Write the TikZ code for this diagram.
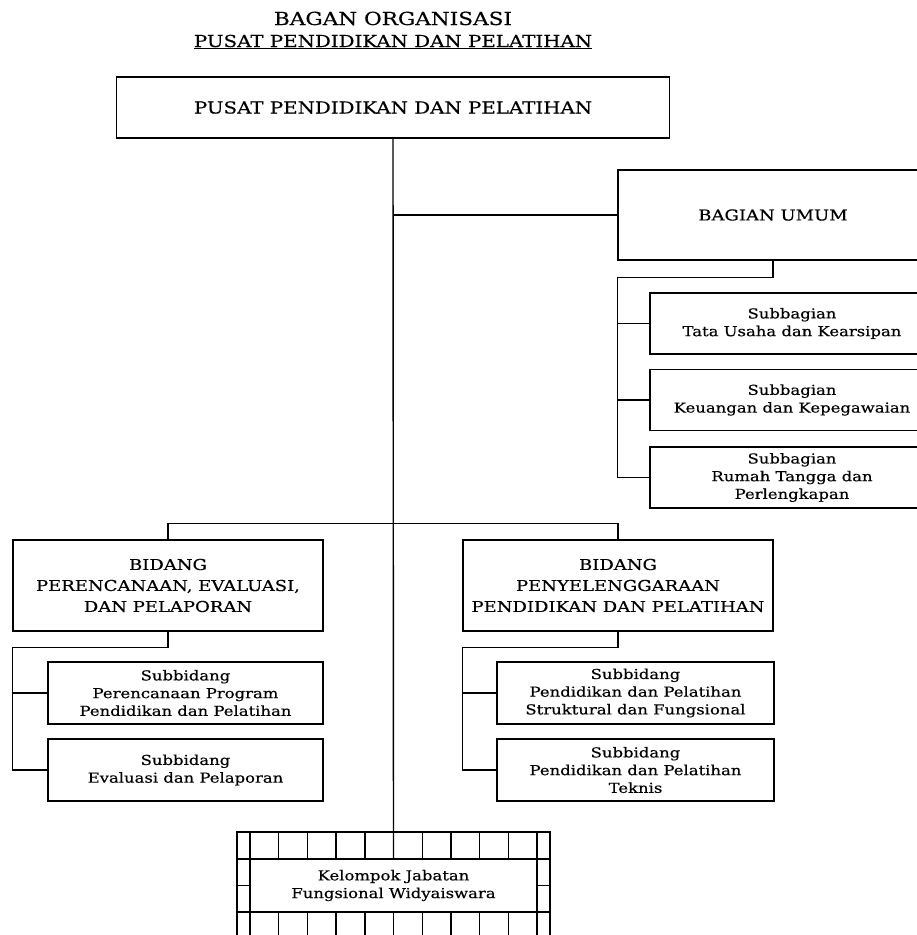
\documentclass[tikz,border=0pt]{standalone}
\usepackage{fontspec}
\setmainfont{DejaVu Serif}[FakeStretch=1.2,FakeBold=0.4]
\usepackage{tikz}
\usetikzlibrary{positioning}
\tikzstyle{unit}=[draw,line width=1.4pt,align=center,inner sep=0pt,font=\fontsize{15}{21}\selectfont]
\tikzstyle{subunit}=[draw,line width=1.4pt,align=center,inner sep=0pt,font=\fontsize{13.7}{17.7}\selectfont]
\tikzstyle{link}=[line width=1.4pt]
\tikzstyle{heading}=[anchor=base,inner sep=0pt,font=\fontsize{16.5}{21}\selectfont]

\begin{document}
\begin{tikzpicture}[x=1pt,y=-1pt]
\useasboundingbox (0,0) rectangle (917,935);
% judul
\node [heading,font=\fontsize{18}{21}\selectfont] (judul1) at (393,25) {BAGAN ORGANISASI};
\node [heading] (judul2) at (393,47) {\underline{PUSAT PENDIDIKAN DAN PELATIHAN}};
% pimpinan dan bagian umum
\node [unit,font=\fontsize{16.5}{21}\selectfont,minimum width=553,minimum height=61] (pusat) at (393,107.5) {PUSAT PENDIDIKAN DAN PELATIHAN};
\node [unit,minimum width=310,minimum height=90] (umum) at (773,215) {BAGIAN UMUM};
\node [subunit,minimum width=284,minimum height=61] (sb1) at (792,323.5) {Subbagian\\Tata Usaha dan Kearsipan};
\node [subunit,minimum width=284,minimum height=61] (sb2) at (792,400) {Subbagian\\Keuangan dan Kepegawaian};
\node [subunit,minimum width=284,minimum height=61] (sb3) at (792,477.5) {Subbagian\\Rumah Tangga dan\\Perlengkapan};
% bidang
\node [unit,minimum width=310,minimum height=91] (bpe) at (168,585.5) {BIDANG\\PERENCANAAN, EVALUASI,\\DAN PELAPORAN};
\node [unit,minimum width=310,minimum height=91] (bpp) at (618,585.5) {BIDANG\\PENYELENGGARAAN\\PENDIDIKAN DAN PELATIHAN};
\node [subunit,minimum width=275,minimum height=62] (sd1) at (185.5,693) {Subbidang\\Perencanaan Program\\Pendidikan dan Pelatihan};
\node [subunit,minimum width=275,minimum height=62] (sd2) at (185.5,770) {Subbidang\\Evaluasi dan Pelaporan};
\node [subunit,minimum width=277,minimum height=62] (sd3) at (635.5,693) {Subbidang\\Pendidikan dan Pelatihan\\Struktural dan Fungsional};
\node [subunit,minimum width=277,minimum height=62] (sd4) at (635.5,770) {Subbidang\\Pendidikan dan Pelatihan\\Teknis};
% jabatan fungsional
\node [subunit,minimum width=287,minimum height=53] (jf) at (393.5,885.5) {Kelompok Jabatan\\Fungsional Widyaiswara};
\draw [link] (237,832) rectangle (550,940);
\draw [link] (237,859) -- (550,859);
\draw [link] (237,912) -- (550,912);
\draw [link] (jf.west) -- ++(-13,0);
\draw [link] (jf.east) -- ++(13,0);
\foreach \i in {0,...,10}{
  \draw [link] (250+28.7*\i,832) -- ++(0,27);
  \draw [link] (250+28.7*\i,912) -- ++(0,28);
}
% garis
\draw [link] (pusat.south) -- (jf.north);
\draw [link] (pusat.south |- umum.west) -- (umum.west);
\draw [link] (umum.south) -- ++(0,17) -| (umum.west |- sb3.west) -- (sb3.west);
\draw [link] (umum.west |- sb1.west) -- (sb1.west);
\draw [link] (umum.west |- sb2.west) -- (sb2.west);
\draw [link] (bpe.north) -- ++(0,-16) -| (bpp.north);
\draw [link] (bpe.south) -- ++(0,16) -| (bpe.west |- sd2.west) -- (sd2.west);
\draw [link] (bpe.west |- sd1.west) -- (sd1.west);
\draw [link] (bpp.south) -- ++(0,16) -| (bpp.west |- sd4.west) -- (sd4.west);
\draw [link] (bpp.west |- sd3.west) -- (sd3.west);
\end{tikzpicture}
\end{document}
